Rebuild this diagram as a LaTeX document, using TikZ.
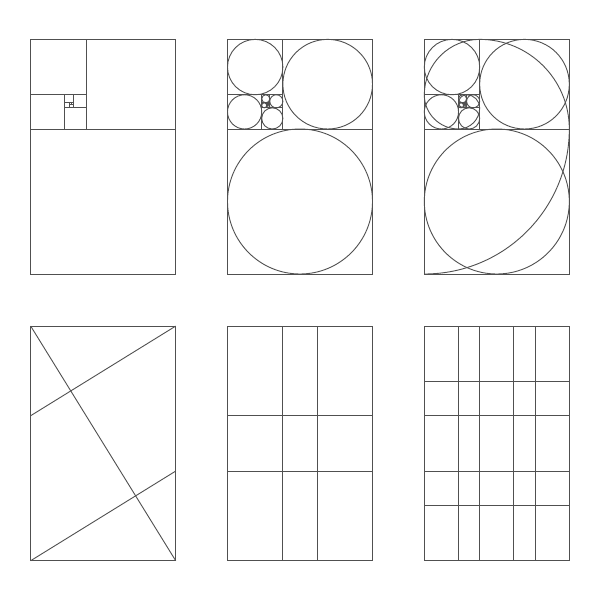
\documentclass[tikz,border=0pt]{standalone}
\usetikzlibrary{calc}
\definecolor{linegray}{RGB}{80,80,80}
\tikzset{
  thinline/.style={draw=linegray, line width=0.9pt},
  frame/.style={thinline},
}
\def\sqlist{0/0/145, 55.3851/145/89.6149, 0/179.2298/55.3851, 0/145/34.2298, 34.2298/145/21.1553, 42.3106/166.1553/13.0745, 34.2298/171.1490/8.0808, 34.2298/166.1553/4.9942, 39.2240/166.1553/3.0866, 40.4030/169.2419/1.9076}
\def\PW{145}
\def\PH{234.6149}
\begin{document}
\begin{tikzpicture}[x=1pt,y=1pt]
\fill[white] (0,0) rectangle (600,600);
\useasboundingbox (0,0) rectangle (600,600);
% ---------- Panel 1: golden squares ----------
\begin{scope}[shift={(30.7,326)}]
  \draw[frame] (0,0) rectangle (\PW,\PH);
  \foreach \x/\y/\s in \sqlist { \draw[thinline] (\x,\y) rectangle ++(\s,\s); }
\end{scope}
% ---------- Panel 2: squares with circles ----------
\begin{scope}[shift={(227.5,326)}]
  \draw[frame] (0,0) rectangle (\PW,\PH);
  \foreach \x/\y/\s in \sqlist {
    \draw[thinline] (\x,\y) rectangle ++(\s,\s);
    \draw[thinline] ({\x+\s/2},{\y+\s/2}) circle[radius={\s/2}];
  }
\end{scope}
% ---------- Panel 3: squares, circles and spiral ----------
\begin{scope}[shift={(424.3,326)}]
  \draw[frame] (0,0) rectangle (\PW,\PH);
  \foreach \x/\y/\s in \sqlist {
    \draw[thinline] (\x,\y) rectangle ++(\s,\s);
    \draw[thinline] ({\x+\s/2},{\y+\s/2}) circle[radius={\s/2}];
  }
  \draw[thinline] (0,0)
    arc[start angle=270,end angle=360,radius=145]
    arc[start angle=0,end angle=90,radius=89.6149]
    arc[start angle=90,end angle=180,radius=55.3851]
    arc[start angle=180,end angle=270,radius=34.2298]
    arc[start angle=270,end angle=360,radius=21.1553]
    arc[start angle=0,end angle=90,radius=13.0745]
    arc[start angle=90,end angle=180,radius=8.0808]
    arc[start angle=180,end angle=270,radius=4.9942]
    arc[start angle=270,end angle=360,radius=3.0866];
\end{scope}
% ---------- Panel 4: harmonic armature ----------
\begin{scope}[shift={(30.7,39.3)}]
  \draw[frame] (0,0) rectangle (\PW,\PH);
  \coordinate (tl) at (0,\PH);
  \coordinate (tr) at (\PW,\PH);
  \coordinate (bl) at (0,0);
  \coordinate (br) at (\PW,0);
  \coordinate (lm) at (0,145);
  \coordinate (rm) at (\PW,89.6149);
  \draw[thinline] (tl) -- (br);
  \draw[thinline] (tr) -- (lm);
  \draw[thinline] (bl) -- (rm);
\end{scope}
% ---------- Panel 5: 3x3 golden grid ----------
\begin{scope}[shift={(227.5,39.3)}]
  \draw[frame] (0,0) rectangle (\PW,\PH);
  \foreach \v in {55.3851,89.6149} { \draw[thinline] (\v,0) -- (\v,\PH); }
  \foreach \h in {89.6149,145} { \draw[thinline] (0,\h) -- (\PW,\h); }
\end{scope}
% ---------- Panel 6: 5x5 golden grid ----------
\begin{scope}[shift={(424.3,39.3)}]
  \draw[frame] (0,0) rectangle (\PW,\PH);
  \foreach \v in {34.2298,55.3851,89.6149,110.7702} { \draw[thinline] (\v,0) -- (\v,\PH); }
  \foreach \h in {55.3851,89.6149,145,179.2298} { \draw[thinline] (0,\h) -- (\PW,\h); }
\end{scope}
\end{tikzpicture}
\end{document}
